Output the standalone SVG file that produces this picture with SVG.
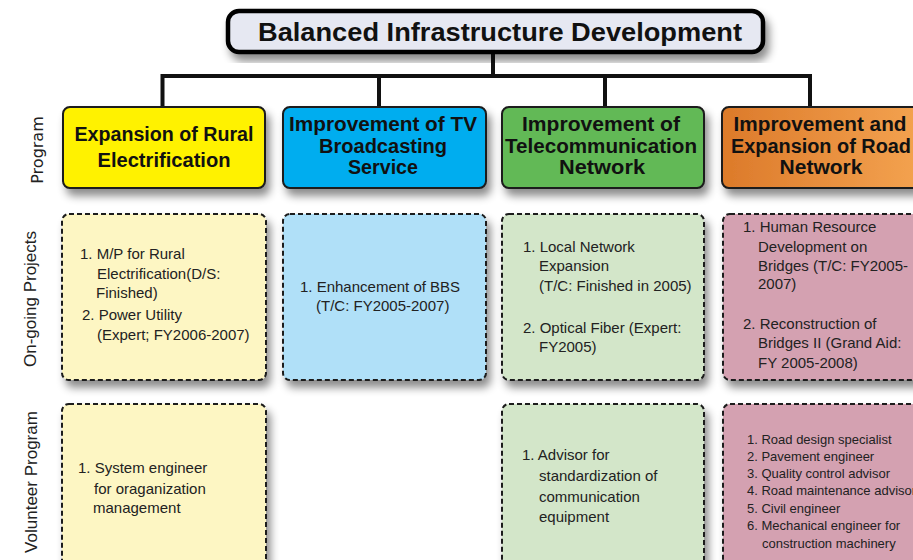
<svg xmlns="http://www.w3.org/2000/svg" width="913" height="560" viewBox="0 0 913 560">
  <defs>
    <filter id="sh" x="-10%" y="-10%" width="125%" height="135%">
      <feDropShadow dx="4" dy="7" stdDeviation="4" flood-color="#000" flood-opacity="0.45"/>
    </filter>
    <linearGradient id="og" x1="0" y1="0" x2="1" y2="0">
      <stop offset="0" stop-color="#dc7a2a"/>
      <stop offset="1" stop-color="#f5a552"/>
    </linearGradient>
    <style>
      .prog { stroke: #1a1a1a; stroke-width: 2; }
      .proj { stroke: #1a1a1a; stroke-width: 2; stroke-dasharray: 5 3; }
      .hd { font-family: "Liberation Sans", Arial, sans-serif; font-weight: bold; font-size: 20px; fill: #111; text-anchor: middle; }
      .ttl { font-family: "Liberation Sans", Arial, sans-serif; font-weight: bold; font-size: 26px; fill: #111; text-anchor: middle; }
      .bd { font-family: "Liberation Sans", Arial, sans-serif; font-size: 15px; fill: #222; }
      .sm { font-family: "Liberation Sans", Arial, sans-serif; font-size: 13px; fill: #222; }
      .row { font-family: "Liberation Sans", Arial, sans-serif; font-size: 17px; fill: #222; text-anchor: middle; }
      .conn { stroke: #111; stroke-width: 4; fill: none; }
    </style>
  </defs>
  <rect width="913" height="560" fill="#fff"/>

  <g id="connectors">
    <path class="conn" d="M493 52 V76 M160.5 76 H812 M162.5 74 V107 M379 76 V107 M605 76 V107 M810 74 V107"/>
  </g>

  <g id="title">
    <rect x="228" y="11" width="535" height="41" rx="11" fill="#e6e8f2" stroke="#000" stroke-width="4.5" filter="url(#sh)"/>
    <text x="500" y="41" class="ttl" textLength="484" lengthAdjust="spacingAndGlyphs">Balanced Infrastructure Development</text>
  </g>

  <g id="row-labels">
    <text transform="translate(43,150) rotate(-90)" class="row" style="font-family: 'DejaVu Sans', Verdana, sans-serif; font-size: 16px;">Program</text>
    <text transform="translate(36,299) rotate(-90)" class="row">On-going Projects</text>
    <text transform="translate(37,482) rotate(-90)" class="row">Volunteer Program</text>
  </g>

  <g id="prog-rural">
    <rect class="prog" x="63" y="107" width="202" height="81" rx="7" fill="#fff200" filter="url(#sh)"/>
    <text class="hd" x="164" y="141" textLength="179" lengthAdjust="spacingAndGlyphs">Expansion of Rural</text>
    <text class="hd" x="164" y="167" textLength="133" lengthAdjust="spacingAndGlyphs">Electrification</text>
  </g>
  <g id="prog-tv">
    <rect class="prog" x="283" y="107" width="203" height="81" rx="7" fill="#00adef" filter="url(#sh)"/>
    <text class="hd" x="383" y="131" textLength="188" lengthAdjust="spacingAndGlyphs">Improvement of TV</text>
    <text class="hd" x="383" y="153" textLength="128" lengthAdjust="spacingAndGlyphs">Broadcasting</text>
    <text class="hd" x="383" y="174" textLength="70" lengthAdjust="spacingAndGlyphs">Service</text>
  </g>
  <g id="prog-tele">
    <rect class="prog" x="502" y="107" width="202" height="81" rx="7" fill="#62b957" filter="url(#sh)"/>
    <text class="hd" x="601" y="131" textLength="158" lengthAdjust="spacingAndGlyphs">Improvement of</text>
    <text class="hd" x="601" y="153" textLength="192" lengthAdjust="spacingAndGlyphs">Telecommunication</text>
    <text class="hd" x="602" y="174" textLength="86" lengthAdjust="spacingAndGlyphs">Network</text>
  </g>
  <g id="prog-road">
    <rect class="prog" x="722" y="107" width="210" height="81" rx="7" fill="url(#og)" filter="url(#sh)"/>
    <text class="hd" x="820" y="131" textLength="173" lengthAdjust="spacingAndGlyphs">Improvement and</text>
    <text class="hd" x="821" y="153" textLength="180" lengthAdjust="spacingAndGlyphs">Expansion of Road</text>
    <text class="hd" x="821" y="174" textLength="83" lengthAdjust="spacingAndGlyphs">Network</text>
  </g>

  <g id="proj-rural">
    <rect class="proj" x="62" y="214" width="204" height="166" rx="7" fill="#fdf6c3" filter="url(#sh)"/>
    <text class="bd" x="80" y="259">1. M/P for Rural</text>
    <text class="bd" x="97" y="279">Electrification(D/S:</text>
    <text class="bd" x="96" y="298">Finished)</text>
    <text class="bd" x="82" y="320">2. Power Utility</text>
    <text class="bd" x="97" y="340">(Expert; FY2006-2007)</text>
  </g>
  <g id="proj-tv">
    <rect class="proj" x="283" y="214" width="203" height="166" rx="7" fill="#b0e0f8" filter="url(#sh)"/>
    <text class="bd" x="300" y="292">1. Enhancement of BBS</text>
    <text class="bd" x="316" y="311">(T/C: FY2005-2007)</text>
  </g>
  <g id="proj-tele">
    <rect class="proj" x="502" y="214" width="202" height="166" rx="7" fill="#d3e6c9" filter="url(#sh)"/>
    <text class="bd" x="523" y="252">1. Local Network</text>
    <text class="bd" x="539" y="271">Expansion</text>
    <text class="bd" x="539" y="291">(T/C: Finished in 2005)</text>
    <text class="bd" x="523" y="333">2. Optical Fiber (Expert:</text>
    <text class="bd" x="539" y="352">FY2005)</text>
  </g>
  <g id="proj-road">
    <rect class="proj" x="723" y="214" width="210" height="166" rx="7" fill="#d4a1b1" filter="url(#sh)"/>
    <text class="bd" x="743" y="232">1. Human Resource</text>
    <text class="bd" x="758" y="252">Development on</text>
    <text class="bd" x="758" y="271">Bridges (T/C: FY2005-</text>
    <text class="bd" x="758" y="289">2007)</text>
    <text class="bd" x="743" y="329">2. Reconstruction of</text>
    <text class="bd" x="758" y="348">Bridges II (Grand Aid:</text>
    <text class="bd" x="758" y="368">FY 2005-2008)</text>
  </g>

  <g id="vol-rural">
    <rect class="proj" x="62" y="404" width="204" height="180" rx="7" fill="#fdf6c3" filter="url(#sh)"/>
    <text class="bd" x="78" y="473">1. System engineer</text>
    <text class="bd" x="94" y="494">for oraganization</text>
    <text class="bd" x="93" y="513">management</text>
  </g>
  <g id="vol-tele">
    <rect class="proj" x="502" y="404" width="202" height="180" rx="7" fill="#d3e6c9" filter="url(#sh)"/>
    <text class="bd" x="522" y="460">1. Advisor for</text>
    <text class="bd" x="539" y="481">standardization of</text>
    <text class="bd" x="539" y="502">communication</text>
    <text class="bd" x="539" y="522">equipment</text>
  </g>
  <g id="vol-road">
    <rect class="proj" x="723" y="404" width="210" height="180" rx="7" fill="#d4a1b1" filter="url(#sh)"/>
    <text class="sm" x="747" y="444">1. Road design specialist</text>
    <text class="sm" x="747" y="461">2. Pavement engineer</text>
    <text class="sm" x="747" y="478">3. Quality control advisor</text>
    <text class="sm" x="747" y="495">4. Road maintenance advisor</text>
    <text class="sm" x="747" y="513">5. Civil engineer</text>
    <text class="sm" x="747" y="530">6. Mechanical engineer for</text>
    <text class="sm" x="762" y="548">construction machinery</text>
  </g>
</svg>
